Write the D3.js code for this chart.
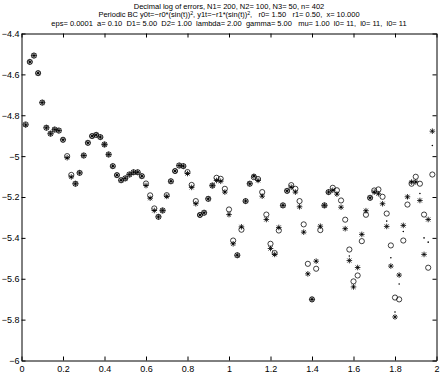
<!DOCTYPE html>
<html>
<head>
<meta charset="utf-8">
<script src="https://cdn.jsdelivr.net/npm/d3@7"></script>
<style>
body{margin:0;background:#fff;}
svg{display:block;font-family:"Liberation Sans",Arial,Helvetica,sans-serif;}
.title{font-size:7.5px;white-space:pre;}
.tick text{font-size:9px;fill:#000;}
</style>
</head>
<body>
<div id="canvas"></div>
<script>
// grid points
var xs = [0.02,0.04,0.06,0.08,0.10,0.12,0.14,0.16,0.18,0.20,
          0.22,0.24,0.26,0.28,0.30,0.32,0.34,0.36,0.38,0.40,
          0.42,0.44,0.46,0.48,0.50,0.52,0.54,0.56,0.58,0.60,
          0.62,0.64,0.66,0.68,0.70,0.72,0.74,0.76,0.78,0.80,
          0.82,0.84,0.86,0.88,0.90,0.92,0.94,0.96,0.98,1.00,
          1.02,1.04,1.06,1.08,1.10,1.12,1.14,1.16,1.18,1.20,
          1.22,1.24,1.26,1.28,1.30,1.32,1.34,1.36,1.38,1.40,
          1.42,1.44,1.46,1.48,1.50,1.52,1.54,1.56,1.58,1.60,
          1.62,1.64,1.66,1.68,1.70,1.72,1.74,1.76,1.78,1.80,
          1.82,1.84,1.86,1.88,1.90,1.92,1.94,1.96,1.98];

// decimal log of errors, 'o' markers
var errCircle = [-4.845,-4.539,-4.508,-4.594,-4.738,-4.861,-4.890,-4.870,-4.875,-4.920,
                 -5.000,-5.092,-5.135,-5.082,-4.997,-4.935,-4.902,-4.896,-4.907,-4.943,
                 -4.992,-5.049,-5.093,-5.118,-5.109,-5.090,-5.079,-5.079,-5.098,-5.134,
                 -5.192,-5.256,-5.297,-5.266,-5.191,-5.123,-5.073,-5.046,-5.049,-5.078,
                 -5.141,-5.220,-5.288,-5.277,-5.209,-5.144,-5.106,-5.111,-5.160,-5.261,
                 -5.413,-5.485,-5.360,-5.220,-5.135,-5.103,-5.112,-5.176,-5.286,-5.429,
                 -5.474,-5.364,-5.241,-5.170,-5.142,-5.160,-5.220,-5.334,-5.527,-5.701,
                 -5.551,-5.362,-5.241,-5.176,-5.155,-5.167,-5.217,-5.311,-5.457,-5.613,
                 -5.584,-5.416,-5.287,-5.204,-5.168,-5.163,-5.199,-5.281,-5.437,-5.692,
                 -5.701,-5.413,-5.237,-5.135,-5.101,-5.135,-5.286,-5.546,-5.090];

// '*' markers
var errStar = [-4.847,-4.539,-4.508,-4.594,-4.738,-4.861,-4.890,-4.870,-4.875,-4.920,
               -5.008,-5.102,-5.135,-5.082,-4.997,-4.935,-4.902,-4.896,-4.907,-4.943,
               -4.992,-5.049,-5.093,-5.118,-5.109,-5.090,-5.079,-5.079,-5.098,-5.144,
               -5.206,-5.266,-5.297,-5.266,-5.197,-5.123,-5.073,-5.046,-5.049,-5.085,
               -5.153,-5.233,-5.288,-5.277,-5.209,-5.144,-5.119,-5.123,-5.176,-5.286,
               -5.429,-5.485,-5.346,-5.220,-5.135,-5.098,-5.119,-5.196,-5.310,-5.452,
               -5.481,-5.349,-5.241,-5.170,-5.152,-5.176,-5.248,-5.372,-5.576,-5.701,
               -5.514,-5.343,-5.241,-5.176,-5.167,-5.186,-5.250,-5.355,-5.511,-5.640,
               -5.545,-5.383,-5.267,-5.204,-5.176,-5.184,-5.233,-5.344,-5.538,-5.787,
               -5.582,-5.339,-5.199,-5.127,-5.126,-5.217,-5.481,-5.310,-4.878];

// '.' markers
var errDot = [-4.847,-4.539,-4.508,-4.594,-4.738,-4.861,-4.890,-4.870,-4.875,-4.920,
              -5.008,-5.102,-5.135,-5.082,-4.997,-4.935,-4.902,-4.896,-4.907,-4.943,
              -4.992,-5.049,-5.093,-5.118,-5.109,-5.090,-5.079,-5.079,-5.098,-5.144,
              -5.206,-5.266,-5.297,-5.266,-5.197,-5.123,-5.073,-5.046,-5.049,-5.085,
              -5.153,-5.233,-5.288,-5.277,-5.209,-5.144,-5.119,-5.123,-5.176,-5.286,
              -5.429,-5.485,-5.346,-5.220,-5.135,-5.098,-5.119,-5.196,-5.310,-5.452,
              -5.481,-5.349,-5.241,-5.170,-5.152,-5.176,-5.248,-5.372,-5.576,-5.701,
              -5.514,-5.343,-5.241,-5.176,-5.167,-5.186,-5.250,-5.355,-5.489,-5.640,
              -5.545,-5.383,-5.267,-5.204,-5.176,-5.184,-5.233,-5.318,-5.497,-5.763,
              -5.626,-5.369,-5.205,-5.127,-5.126,-5.183,-5.400,-5.421,-4.948];

var xTickValues = [0,0.2,0.4,0.6,0.8,1,1.2,1.4,1.6,1.8,2];
var xTickLabels = ['0','0.2','0.4','0.6','0.8','1','1.2','1.4','1.6','1.8','2'];
var yTickValues = [-6,-5.8,-5.6,-5.4,-5.2,-5,-4.8,-4.6,-4.4];
var yTickLabels = ['\u22126','\u22125.8','\u22125.6','\u22125.4','\u22125.2','\u22125','\u22124.8','\u22124.6','\u22124.4'];

var W = 443, H = 374;
var m = {t:33.5, r:6.5, b:13.5, l:21.5},
    w = W - m.l - m.r,
    h = H - m.t - m.b;

var svg = d3.select('#canvas')
    .append('svg')
    .attr('width', W)
    .attr('height', H);

//Title, three lines
var cx = m.l + w/2;
svg.append('text').attr('class','title').attr('text-anchor','middle')
    .attr('x',cx).attr('y',8.7)
    .text('Decimal log of errors, N1= 200, N2= 100, N3= 50, n= 402');

var t2 = svg.append('text').attr('class','title').attr('text-anchor','middle')
    .attr('x',cx).attr('y',17.4);
t2.append('tspan').text('Periodic BC y0t=\u2212r0*(sin(t))');
t2.append('tspan').attr('dy',-2.8).style('font-size','5.2px').text('2');
t2.append('tspan').attr('dy',2.8).text(', y1t=\u2212r1*(sin(t))');
t2.append('tspan').attr('dy',-2.8).style('font-size','5.2px').text('2');
t2.append('tspan').attr('dy',2.8).text(',   r0= 1.50   r1= 0.50,  x= 10.000');

svg.append('text').attr('class','title').attr('text-anchor','middle')
    .attr('x',cx).attr('y',26.1)
    .text('eps= 0.0001  a= 0.10  D1= 5.00  D2= 1.00  lambda= 2.00  gamma= 5.00   mu= 1.00  l0= 11,  l0= 11,  l0= 11');

var plot = svg.append('g').attr('class','plot')
    .attr('transform','translate('+ m.l +','+ m.t +')');

var scaleX = d3.scaleLinear().domain([0,2]).range([0,w]),
    scaleY = d3.scaleLinear().domain([-6,-4.4]).range([h,0]);

//Axes, ticks inside on all four sides
var axisB = d3.axisBottom(scaleX).tickValues(xTickValues).tickSize(-4).tickSizeOuter(0).tickPadding(5)
        .tickFormat(function(d,i){ return xTickLabels[i]; }),
    axisT = d3.axisTop(scaleX).tickValues(xTickValues).tickSize(-4).tickSizeOuter(0).tickFormat(''),
    axisL = d3.axisLeft(scaleY).tickValues(yTickValues).tickSize(-4).tickSizeOuter(0).tickPadding(2)
        .tickFormat(function(d,i){ return yTickLabels[i]; }),
    axisR = d3.axisRight(scaleY).tickValues(yTickValues).tickSize(-4).tickSizeOuter(0).tickFormat('');

plot.append('g').attr('class','axis').attr('transform','translate(0,'+h+')').call(axisB);
plot.append('g').attr('class','axis').call(axisT);
plot.append('g').attr('class','axis').call(axisL);
plot.append('g').attr('class','axis').attr('transform','translate('+w+',0)').call(axisR);

plot.selectAll('.axis').attr('font-family',null).attr('font-size',null);
plot.selectAll('.axis path, .axis line').attr('stroke','#000').attr('stroke-width',1);

plot.append('clipPath').attr('id','clip')
    .append('rect').attr('x',-4).attr('y',-4).attr('width',w+4).attr('height',h+8);

var marks = plot.append('g').attr('clip-path','url(#clip)');

//'*' marker
var r = 2.8, dg = r*0.72;
var starPath = 'M'+(-r)+',0H'+r+'M0,'+(-r)+'V'+r+
    'M'+(-dg)+','+(-dg)+'L'+dg+','+dg+'M'+(-dg)+','+dg+'L'+dg+','+(-dg);

marks.selectAll('.star')
    .data(errStar)
    .enter()
    .append('path')
    .attr('class','star')
    .attr('d',starPath)
    .attr('transform',function(d,i){ return 'translate('+scaleX(xs[i])+','+scaleY(d)+')'; })
    .attr('fill','none')
    .attr('stroke','#000')
    .attr('stroke-width',0.8);

marks.selectAll('.circ')
    .data(errCircle)
    .enter()
    .append('circle')
    .attr('class','circ')
    .attr('cx',function(d,i){ return scaleX(xs[i]); })
    .attr('cy',function(d){ return scaleY(d); })
    .attr('r',2.6)
    .attr('fill','none')
    .attr('stroke','#000')
    .attr('stroke-width',0.75);

marks.selectAll('.dot')
    .data(errDot)
    .enter()
    .append('circle')
    .attr('class','dot')
    .attr('cx',function(d,i){ return scaleX(xs[i]); })
    .attr('cy',function(d){ return scaleY(d); })
    .attr('r',0.8)
    .attr('fill','#000');
</script>
</body>
</html>
